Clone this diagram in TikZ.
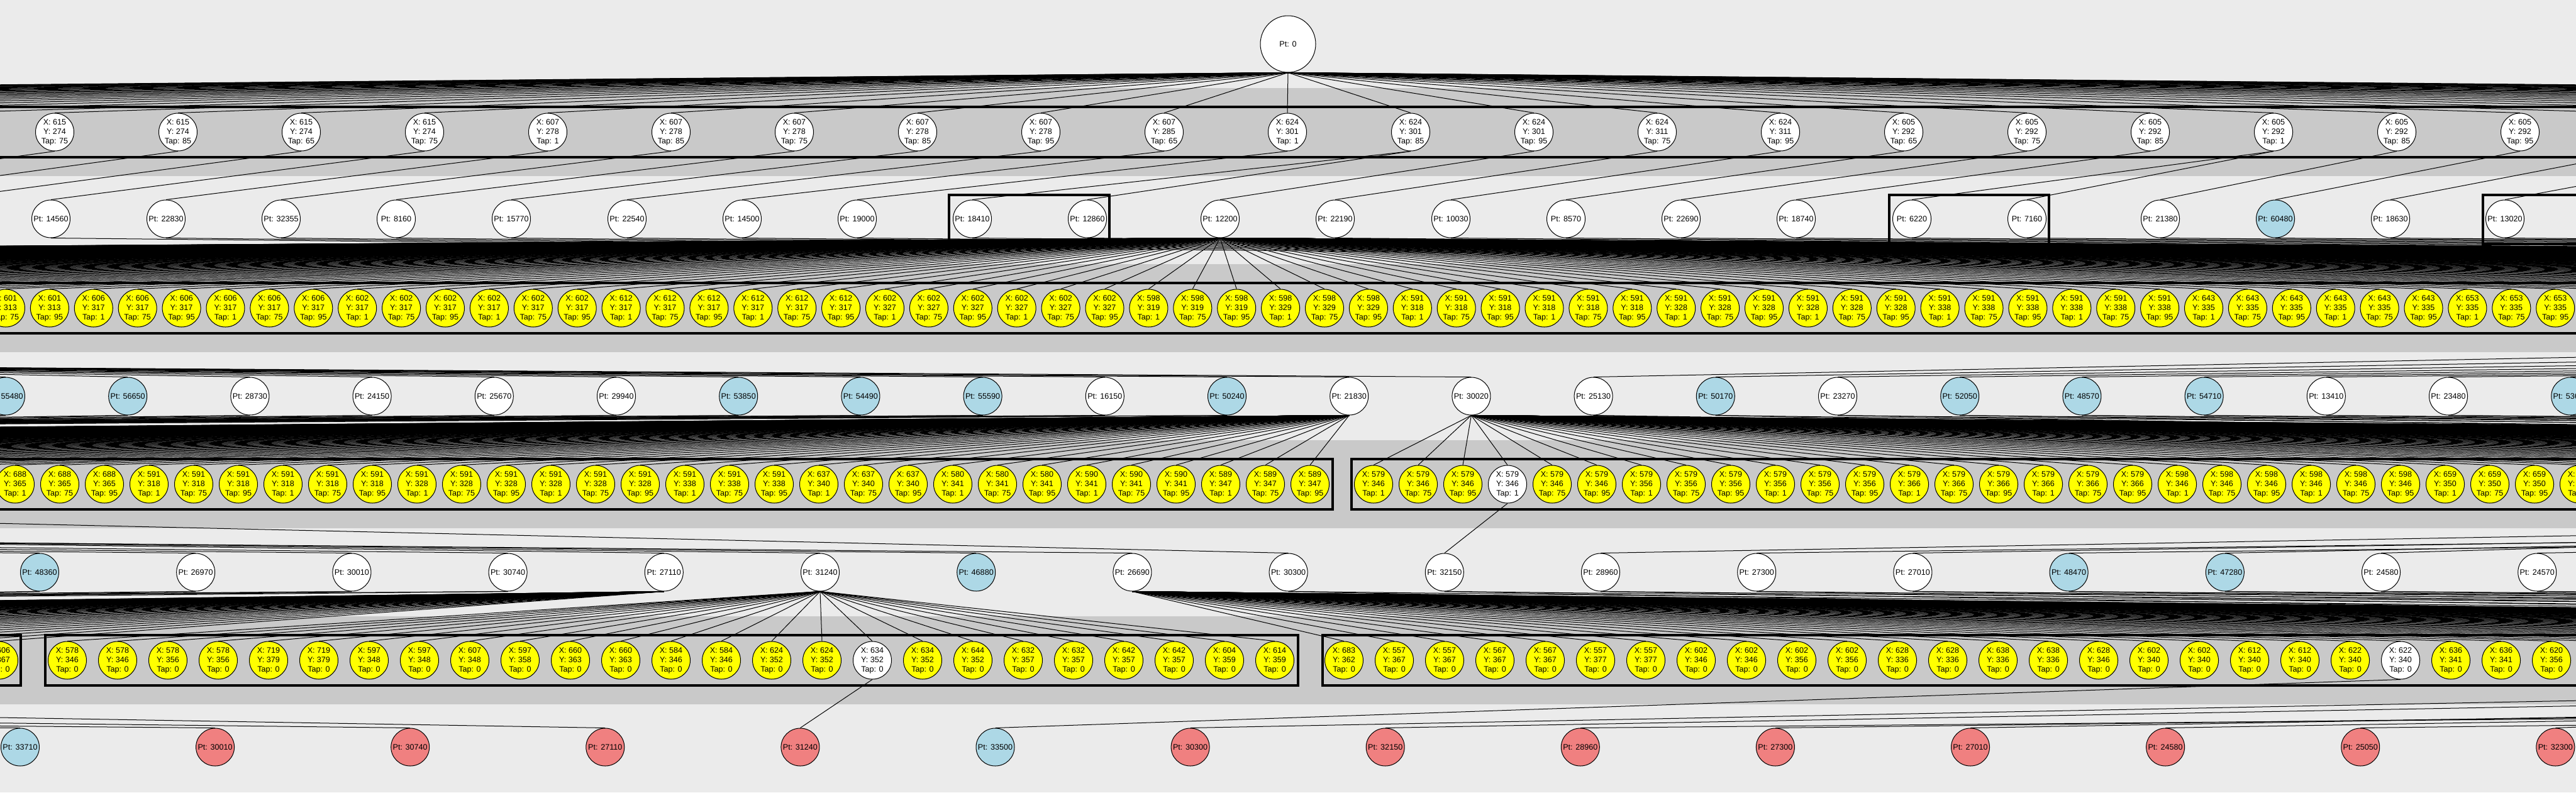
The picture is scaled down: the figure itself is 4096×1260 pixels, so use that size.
\documentclass[tikz,border=0pt]{standalone}
\usepackage{fontspec}
\setmainfont{Liberation Sans}
\usetikzlibrary{shapes.geometric}
\pgfdeclarelayer{bgl}
\pgfdeclarelayer{edl}
\pgfsetlayers{bgl,edl,main}
\definecolor{bgc}{RGB}{235,235,235}
\definecolor{bandc}{RGB}{201,201,201}
\definecolor{yelc}{RGB}{255,255,0}
\definecolor{bluc}{RGB}{173,216,230}
\definecolor{redc}{RGB}{240,128,128}
\newcommand\xyt[3]{X: #1\\Y: #2\\Tap: #3}
\begin{document}
\begin{tikzpicture}[x=0.5pt,y=-0.5pt,
  nd/.style={ellipse,draw=black,line width=0.5pt,minimum width=30.5pt,minimum height=30pt,inner xsep=-10pt,inner ysep=-6pt,align=center,font=\fontsize{6.3}{7.5}\selectfont},
  ed/.style={draw=black,line width=0.5pt},
  clus/.style={draw=black,line width=1.75pt}]
\useasboundingbox (0,0) rectangle (4096,1260);
\clip (0,0) rectangle (4096,1260);

% ---------------- nodes ----------------
\node[nd,fill=white,minimum width=44pt,minimum height=45pt] (root) at (2048,70) {Pt: 0};

\foreach \a/\b/\tp [count=\i from 0] in {615/274/75,615/274/85,615/274/65,615/274/75,607/278/1,607/278/85,607/278/75,607/278/85,607/278/95,607/285/65,624/301/1,624/301/85,624/301/95,624/311/75,624/311/95,605/292/65,605/292/75,605/292/85,605/292/1,605/292/85,605/292/95}
  \node[nd,fill=white] (r2-\i) at ({87+196*\i},210) {\xyt{\a}{\b}{\tp}};

\foreach \n/\xx/\f [count=\i from 0] in {14560/81/white,22830/264/white,32355/447/white,8160/630/white,15770/813/white,22540/997/white,14500/1180/white,19000/1363/white,18410/1546/white,12860/1729/white,12200/1940/white,22190/2123/white,10030/2307/white,8570/2490/white,22690/2673/white,18740/2856/white,6220/3040/white,7160/3223/white,21380/3435/white,60480/3618/bluc,18630/3801/white,13020/3983/white}
  \node[nd,fill=\f] (r3-\i) at (\xx,348) {Pt: \n};

\foreach \a/\b/\tp [count=\i from 0] in {601/313/75,601/313/95,606/317/1,606/317/75,606/317/95,606/317/1,606/317/75,606/317/95,602/317/1,602/317/75,602/317/95,602/317/1,602/317/75,602/317/95,612/317/1,612/317/75,612/317/95,612/317/1,612/317/75,612/317/95,602/327/1,602/327/75,602/327/95,602/327/1,602/327/75,602/327/95,598/319/1,598/319/75,598/319/95,598/329/1,598/329/75,598/329/95,591/318/1,591/318/75,591/318/95,591/318/1,591/318/75,591/318/95,591/328/1,591/328/75,591/328/95,591/328/1,591/328/75,591/328/95,591/338/1,591/338/75,591/338/95,591/338/1,591/338/75,591/338/95,643/335/1,643/335/75,643/335/95,643/335/1,643/335/75,643/335/95,653/335/1,653/335/75,653/335/95}
  \node[nd,fill=yelc] (r4-\i) at ({9+69.9*\i},490) {\xyt{\a}{\b}{\tp}};

\foreach \n/\f [count=\i from 0] in {55480/bluc,56650/bluc,28730/white,24150/white,25670/white,29940/white,53850/bluc,54490/bluc,55590/bluc,16150/white,50240/bluc,21830/white,30020/white,25130/white,50170/bluc,23270/white,52050/bluc,48570/bluc,54710/bluc,13410/white,23480/white,53690/bluc}
  \node[nd,fill=\f] (r5-\i) at ({9+194.2*\i},630) {Pt: \n};

\foreach \a/\b/\tp [count=\i from 0] in {688/365/1,688/365/75,688/365/95,591/318/1,591/318/75,591/318/95,591/318/1,591/318/75,591/318/95,591/328/1,591/328/75,591/328/95,591/328/1,591/328/75,591/328/95,591/338/1,591/338/75,591/338/95,637/340/1,637/340/75,637/340/95,580/341/1,580/341/75,580/341/95,590/341/1,590/341/75,590/341/95,589/347/1,589/347/75,589/347/95}
  \node[nd,fill=yelc] (r6-\i) at ({24+71*\i},770) {\xyt{\a}{\b}{\tp}};
\foreach \a/\b/\tp/\f [count=\i from 30] in {579/346/1/yelc,579/346/75/yelc,579/346/95/yelc,579/346/1/white,579/346/75/yelc,579/346/95/yelc,579/356/1/yelc,579/356/75/yelc,579/356/95/yelc,579/356/1/yelc,579/356/75/yelc,579/356/95/yelc,579/366/1/yelc,579/366/75/yelc,579/366/95/yelc,579/366/1/yelc,579/366/75/yelc,579/366/95/yelc,598/346/1/yelc,598/346/75/yelc,598/346/95/yelc,598/346/1/yelc,598/346/75/yelc,598/346/95/yelc,659/350/1/yelc,659/350/75/yelc,659/350/95/yelc,659/360/1/yelc}
  \node[nd,fill=\f] (r6-\i) at ({2184+71*(\i-30)},770) {\xyt{\a}{\b}{\tp}};

\foreach \n/\f [count=\i from 0] in {48360/bluc,26970/white,30010/white,30740/white,27110/white,31240/white,46880/bluc,26690/white,30300/white,32150/white,28960/white,27300/white,27010/white,48470/bluc,47280/bluc,24580/white,24570/white}
  \node[nd,fill=\f] (r7-\i) at ({63+248.2*\i},910) {Pt: \n};

\node[nd,fill=yelc] (r8c) at (-2,1050) {\xyt{606}{367}{0}};
\foreach \a/\b/\f [count=\i from 0] in {578/346/yelc,578/346/yelc,578/356/yelc,578/356/yelc,719/379/yelc,719/379/yelc,597/348/yelc,597/348/yelc,607/348/yelc,597/358/yelc,660/363/yelc,660/363/yelc,584/346/yelc,584/346/yelc,624/352/yelc,624/352/yelc,634/352/white,634/352/yelc,644/352/yelc,632/357/yelc,632/357/yelc,642/357/yelc,642/357/yelc,604/359/yelc,614/359/yelc}
  \node[nd,fill=\f] (r8d\i) at ({107+80*\i},1050) {\xyt{\a}{\b}{0}};
\foreach \a/\b/\f [count=\i from 0] in {683/362/yelc,557/367/yelc,557/367/yelc,567/367/yelc,567/367/yelc,557/377/yelc,557/377/yelc,602/346/yelc,602/346/yelc,602/356/yelc,602/356/yelc,628/336/yelc,628/336/yelc,638/336/yelc,638/336/yelc,628/346/yelc,602/340/yelc,602/340/yelc,612/340/yelc,612/340/yelc,622/340/yelc,622/340/white,636/341/yelc,636/341/yelc,620/356/yelc}
  \node[nd,fill=\f] (r8e\i) at ({2137+80*\i},1050) {\xyt{\a}{\b}{0}};

\foreach \n/\f [count=\i from 0] in {33710/bluc,30010/redc,30740/redc,27110/redc,31240/redc,33500/bluc,30300/redc,32150/redc,28960/redc,27300/redc,27010/redc,24580/redc,25050/redc,32300/redc}
  \node[nd,fill=\f] (r9-\i) at ({32+310.1*\i},1188) {Pt: \n};

% ---------------- background: bands and clusters ----------------
\begin{pgfonlayer}{bgl}
\clip (0,0) rectangle (4096,1260);
\fill[bgc] (0,0) rectangle (4096,1260);
\foreach \cy in {210,490,770,1050} \fill[bandc] (-10,\cy-70) rectangle (4106,\cy+70);
\draw[clus] (-10,170) rectangle (4106,250);
\draw[clus] (1509,310) rectangle (1764,388);
\draw[clus] (3004,310) rectangle (3258,388);
\draw[clus] (3948,310) rectangle (4120,388);
\draw[clus] (-10,450) rectangle (4106,530);
\draw[clus] (-10,730) rectangle (2119,810);
\draw[clus] (2149,730) rectangle (4106,810);
\draw[clus] (-10,1010) rectangle (33,1090);
\draw[clus] (72,1010) rectangle (2064,1090);
\draw[clus] (2103,1010) rectangle (4106,1090);
\end{pgfonlayer}

% ---------------- edges ----------------
\begin{pgfonlayer}{edl}
\clip (0,0) rectangle (4096,1260);
% root fan
\foreach \i in {0,...,20} \draw[ed] (root.south) -- (r2-\i.north);
\foreach \k in {1,...,25} {
  \coordinate (r2L\k) at ({87-196*\k},180);
  \coordinate (r2R\k) at ({4007+196*\k},180);
  \draw[ed] (root.south) -- (r2L\k);
  \draw[ed] (root.south) -- (r2R\k);
}
% row 2 -> row 3
\coordinate (r3o0) at (-481,318);
\coordinate (r3o1) at (-285,318);
\coordinate (r3o2) at (-102,318);
\draw[ed] (r2-0.south) -- (r3o0);
\draw[ed] (r2-1.south) -- (r3o1);
\draw[ed] (r2-2.south) -- (r3o2);
\foreach \p/\q in {3/0,4/1,5/2,6/3,7/4,8/5,9/6,10/7,11/8,11/9,12/10,13/11,14/12,15/13,16/14,17/15,18/16,18/17,19/18,20/19}
  \draw[ed] (r2-\p.south) -- (r3-\q.north);
\coordinate (r2o21) at (4203,240);
\coordinate (r2o22) at (4399,240);
\draw[ed] (r2o21) -- (r3-20.north);
\draw[ed] (r2o22) -- (r3-21.north);
% row 3 -> row 4
\foreach \i in {0,...,58} \draw[ed] (r3-10.south) -- (r4-\i.north);
\foreach \k in {1,...,150} {
  \coordinate (r4L\k) at ({9-69.9*\k},460);
  \coordinate (r4R\k) at ({4063+69.9*\k},460);
  \draw[ed] (r3-10.south) -- (r4L\k);
  \draw[ed] (r3-10.south) -- (r4R\k);
}
\foreach \i in {0,...,9,11,12,...,21} {
  \coordinate (r3x\i) at ({8000+330*\i},460);
  \draw[ed] (r3-\i.south) -- (r3x\i);
}
% row 4 -> row 5 (parents off the picture)
\foreach \i in {0,...,12} {
  \coordinate (r5s\i) at ({-3000-600*\i},520);
  \draw[ed] (r5s\i) -- (r5-\i.north);
}
\foreach \i in {13,...,21} {
  \coordinate (r5s\i) at ({6500+800*(\i-13)},520);
  \draw[ed] (r5s\i) -- (r5-\i.north);
}
% row 5 -> row 6
\foreach \i in {0,...,10} {
  \coordinate (r5t\i) at ({-2500-700*\i},740);
  \coordinate (r5u\i) at ({-5000-700*\i},740);
  \draw[ed] (r5-\i.south) -- (r5t\i);
  \draw[ed] (r5-\i.south) -- (r5u\i);
}
\foreach \i in {13,...,21} {
  \coordinate (r5t\i) at ({6000+700*(\i-13)},740);
  \coordinate (r5u\i) at ({8000+700*(\i-13)},740);
  \draw[ed] (r5-\i.south) -- (r5t\i);
  \draw[ed] (r5-\i.south) -- (r5u\i);
}
\foreach \i in {0,...,29} \draw[ed] (r5-11.south) -- (r6-\i.north);
\foreach \i in {30,...,57} \draw[ed] (r5-12.south) -- (r6-\i.north);
\foreach \k in {1,...,100} {
  \coordinate (r6L\k) at ({24-71*\k},740);
  \coordinate (r6R\k) at ({4101+71*\k},740);
  \draw[ed] (r5-11.south) -- (r6L\k);
  \draw[ed] (r5-12.south) -- (r6R\k);
}
% row 6 -> row 7
\draw[ed] (r6-33.south) -- (r7-9.north);
\foreach \i/\s in {0/-9000,1/-8000,2/-7000,3/-6500,4/-5000,5/-5500,6/-6000,7/-7000,8/-1400} {
  \coordinate (r7s\i) at (\s,800);
  \draw[ed] (r7s\i) -- (r7-\i.north);
}
\foreach \i/\s in {10/7000,11/9000,12/8000,13/10000,14/7500,15/6500,16/8500} {
  \coordinate (r7s\i) at (\s,800);
  \draw[ed] (r7s\i) -- (r7-\i.north);
}
% row 7 -> row 8
\foreach \i in {0,...,3} {
  \coordinate (r7t\i) at ({-3000-1500*\i},1020);
  \coordinate (r7u\i) at ({-6000-1500*\i},1020);
  \draw[ed] (r7-\i.south) -- (r7t\i);
  \draw[ed] (r7-\i.south) -- (r7u\i);
}
\draw[ed] (r7-4.south) -- (r8c.north);
\foreach \k in {1,...,60} {
  \coordinate (r8C\k) at ({-2-80*\k},1020);
  \draw[ed] (r7-4.south) -- (r8C\k);
}
\foreach \i in {0,...,24} \draw[ed] (r7-5.south) -- (r8d\i.north);
\foreach \i in {0,...,24} \draw[ed] (r7-7.south) -- (r8e\i.north);
\foreach \k in {0,...,60} {
  \coordinate (r8E\k) at ({4137+80*\k},1020);
  \draw[ed] (r7-7.south) -- (r8E\k);
}
\foreach \i in {8,...,16} {
  \coordinate (r7t\i) at ({6000+600*(\i-8)},1020);
  \coordinate (r7u\i) at ({9000+600*(\i-8)},1020);
  \draw[ed] (r7-\i.south) -- (r7t\i);
  \draw[ed] (r7-\i.south) -- (r7u\i);
}
% row 8 -> row 9
\draw[ed] (r8d16.south) -- (r9-4.north);
\draw[ed] (r8e21.south) -- (r9-5.north);
\foreach \i/\s in {0/-10000,1/-8400,2/-5850,3/-3560,6/5834,7/6400,8/11000,9/9000,10/7500,11/8000,12/10000,13/6000} {
  \coordinate (r9s\i) at (\s,1080);
  \draw[ed] (r9s\i) -- (r9-\i.north);
}
\end{pgfonlayer}
\end{tikzpicture}
\end{document}
